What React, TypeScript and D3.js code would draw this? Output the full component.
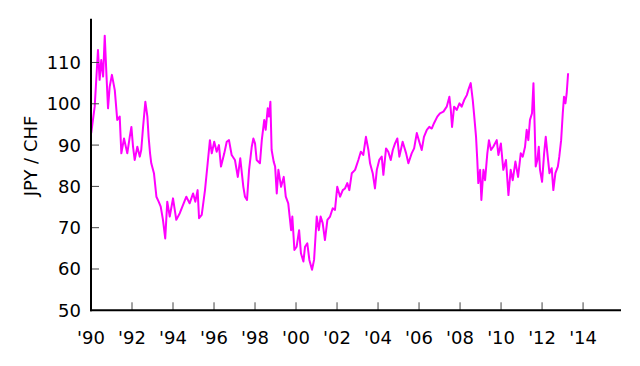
import * as d3 from 'd3';

// decimal year of each observation
const years = [
  1990.01, 1990.18, 1990.34, 1990.42, 1990.5, 1990.59, 1990.67, 1990.75, 1990.83, 1990.91,
  1991.02, 1991.16, 1991.28, 1991.4, 1991.48, 1991.61, 1991.77, 1991.89, 1991.97,
  1992.05, 1992.13, 1992.26, 1992.38, 1992.45, 1992.54, 1992.65, 1992.75, 1992.81, 1992.88, 1992.94,
  1993.07, 1993.19, 1993.3, 1993.4, 1993.51, 1993.62, 1993.72, 1993.84,
  1994.0, 1994.16, 1994.33, 1994.49, 1994.65, 1994.81, 1994.98,
  1995.09, 1995.2, 1995.27, 1995.4, 1995.56, 1995.69, 1995.8, 1995.89,
  1996.01, 1996.13, 1996.24, 1996.34, 1996.5, 1996.62, 1996.73, 1996.86,
  1997.02, 1997.16, 1997.28, 1997.43, 1997.51, 1997.61, 1997.71, 1997.84, 1997.92,
  1998.0, 1998.08, 1998.24, 1998.33, 1998.45, 1998.52, 1998.62, 1998.68, 1998.75, 1998.81, 1998.91, 1998.98,
  1999.06, 1999.14, 1999.27, 1999.4, 1999.5, 1999.62, 1999.76, 1999.82, 1999.92,
  2000.03, 2000.15, 2000.24, 2000.36, 2000.44, 2000.55, 2000.65, 2000.78, 2000.88,
  2001.01, 2001.11, 2001.2, 2001.3, 2001.41, 2001.53, 2001.66, 2001.79, 2001.9,
  2002.01, 2002.15, 2002.28, 2002.39, 2002.5, 2002.6, 2002.72, 2002.88,
  2003.04, 2003.16, 2003.28, 2003.41, 2003.53, 2003.61, 2003.74, 2003.85, 2003.94,
  2004.06, 2004.18, 2004.26, 2004.39, 2004.5, 2004.62, 2004.72, 2004.83, 2004.94,
  2005.04, 2005.2, 2005.37, 2005.48, 2005.64, 2005.76, 2005.89,
  2006.01, 2006.13, 2006.24, 2006.38, 2006.5, 2006.62, 2006.73, 2006.89,
  2007.02, 2007.19, 2007.35, 2007.48, 2007.55, 2007.61, 2007.71, 2007.84, 2007.97,
  2008.08, 2008.2, 2008.33, 2008.4, 2008.52, 2008.62, 2008.68, 2008.78, 2008.84, 2008.89, 2008.98,
  2009.04, 2009.14, 2009.22, 2009.33, 2009.41, 2009.51, 2009.62, 2009.79, 2009.87, 2009.99,
  2010.11, 2010.24, 2010.36, 2010.47, 2010.57, 2010.7, 2010.83, 2010.96,
  2011.06, 2011.17, 2011.25, 2011.33, 2011.41, 2011.51, 2011.58, 2011.64, 2011.69, 2011.77, 2011.84, 2011.9,
  2012.0, 2012.1, 2012.18, 2012.26, 2012.36, 2012.47, 2012.55, 2012.65, 2012.77, 2012.84, 2012.93,
  2013.01, 2013.07, 2013.14, 2013.2, 2013.27,
];

// JPY per CHF
const rates = [
  92.9, 99.3, 113, 105.8, 110.6, 106.6, 116.5, 107.4, 98.9, 104.1,
  107, 103.3, 96.1, 96.9, 88, 91.6, 88, 92, 94.4,
  89.6, 86.4, 89.6, 87.2, 88.8, 94.4, 100.5, 96.9, 92, 88, 85.6,
  83.2, 77.5, 76.3, 75.1, 71.9, 67.4, 76.3, 72.7,
  77.1, 71.9, 73.5, 75.5, 77.5, 75.9, 78.3,
  76.3, 79.1, 72.3, 73.1, 79.1, 85.6, 91.2, 88,
  90.8, 88.4, 90, 84.8, 88, 90.8, 91.2, 87.6,
  86.4, 82.3, 86.8, 79.9, 77.5, 76.7, 84, 89.6, 91.6,
  90.4, 86.4, 85.6, 91.2, 96.1, 93.7, 98.9, 96.9, 100.5, 88.8, 86, 84.8,
  78.3, 84, 79.9, 82.3, 77.5, 75.9, 69.4, 72.7, 64.6,
  65.4, 69.4, 63.8, 61.8, 65.4, 66.2, 62.2, 59.8, 62.2,
  72.7, 69.4, 72.7, 71.1, 67, 71.9, 72.7, 74.7, 74.3,
  79.9, 77.5, 79.1, 79.5, 80.8, 79.1, 83.2, 84,
  86.4, 88.4, 87.6, 92, 88.8, 85.6, 83.2, 79.5, 84,
  86.4, 87.2, 82.8, 89.2, 88.4, 86.4, 88.8, 90.4, 91.6,
  87.2, 90.8, 88, 85.6, 88, 89.2, 92.9,
  90.8, 88.8, 92, 93.7, 94.4, 94, 95.3, 96.9,
  97.7, 98.1, 99.3, 101.7, 98.5, 94.4, 99.3, 98.5, 100.1,
  99.3, 100.9, 102.1, 103.3, 105, 100.9, 97.7, 92, 86.4, 80.8, 84,
  76.7, 84, 81.5, 88, 91.2, 88.8, 89.6, 91.2, 87.6, 90.4,
  84, 86.4, 77.9, 84, 81.5, 86, 82.3, 88,
  87.2, 89.6, 93.7, 91.2, 96.1, 97.7, 105, 94.4, 84.8, 86.4, 89.6, 84,
  81.1, 88, 92, 88, 83.2, 84.4, 79.1, 83.2, 84.8, 87.2, 91.2,
  97.7, 101.7, 100.1, 102.5, 107.4,
];

const xTickYears = [1990, 1992, 1994, 1996, 1998, 2000, 2002, 2004, 2006, 2008, 2010, 2012, 2014];
const yTickValues = [50, 60, 70, 80, 90, 100, 110];

const W = 640;
const H = 366;
const left = 91;
const right = 621;
const top = 18.7;
const bottom = 310.3;
const font = 'DejaVu Sans, sans-serif';
const fs = 18;

export default function App() {
  const x = d3.scaleLinear().domain([1990, 2015.85]).range([left, right]);
  const y = d3.scaleLinear().domain([50, 120.6]).range([bottom, top]);

  const points = years.map((yr, i) => ({ yr, v: rates[i] }));
  const line = d3.line<{ yr: number; v: number }>()
    .x(d => x(d.yr))
    .y(d => y(d.v));

  return (
    <svg width={W} height={H} style={{ position: 'absolute', left: 0, top: 0, background: '#fff' }}>
      <path d={line(points) ?? ''} fill="none" stroke="#ff00ff" strokeWidth={2} strokeLinejoin="round" />

      {/* y ticks, pointing inward */}
      {yTickValues.map(v => (
        <g key={v}>
          {v > 50 && (
            <line x1={left} x2={left + 8} y1={y(v)} y2={y(v)} stroke="#444" strokeWidth={1} />
          )}
          <text x={81} y={y(v)} dy="0.36em" textAnchor="end" fontFamily={font} fontSize={fs} fill="#000">
            {v}
          </text>
        </g>
      ))}

      {/* x ticks */}
      {xTickYears.map(yr => (
        <g key={yr}>
          {yr > 1990 && (
            <line x1={x(yr)} x2={x(yr)} y1={bottom} y2={bottom - 8} stroke="#444" strokeWidth={1} />
          )}
          <text x={x(yr)} y={343.5} textAnchor="middle" fontFamily={font} fontSize={fs} fill="#000">
            {"'" + String(yr).slice(2)}
          </text>
        </g>
      ))}

      <line x1={left} x2={left} y1={top} y2={bottom + 1} stroke="#000" strokeWidth={2} />
      <line x1={left - 1} x2={right} y1={bottom} y2={bottom} stroke="#000" strokeWidth={2} />

      <text
        transform={`translate(37,156) rotate(-90)`}
        textAnchor="middle"
        fontFamily={font}
        fontSize={fs}
        fill="#000"
      >
        JPY / CHF
      </text>
    </svg>
  );
}
